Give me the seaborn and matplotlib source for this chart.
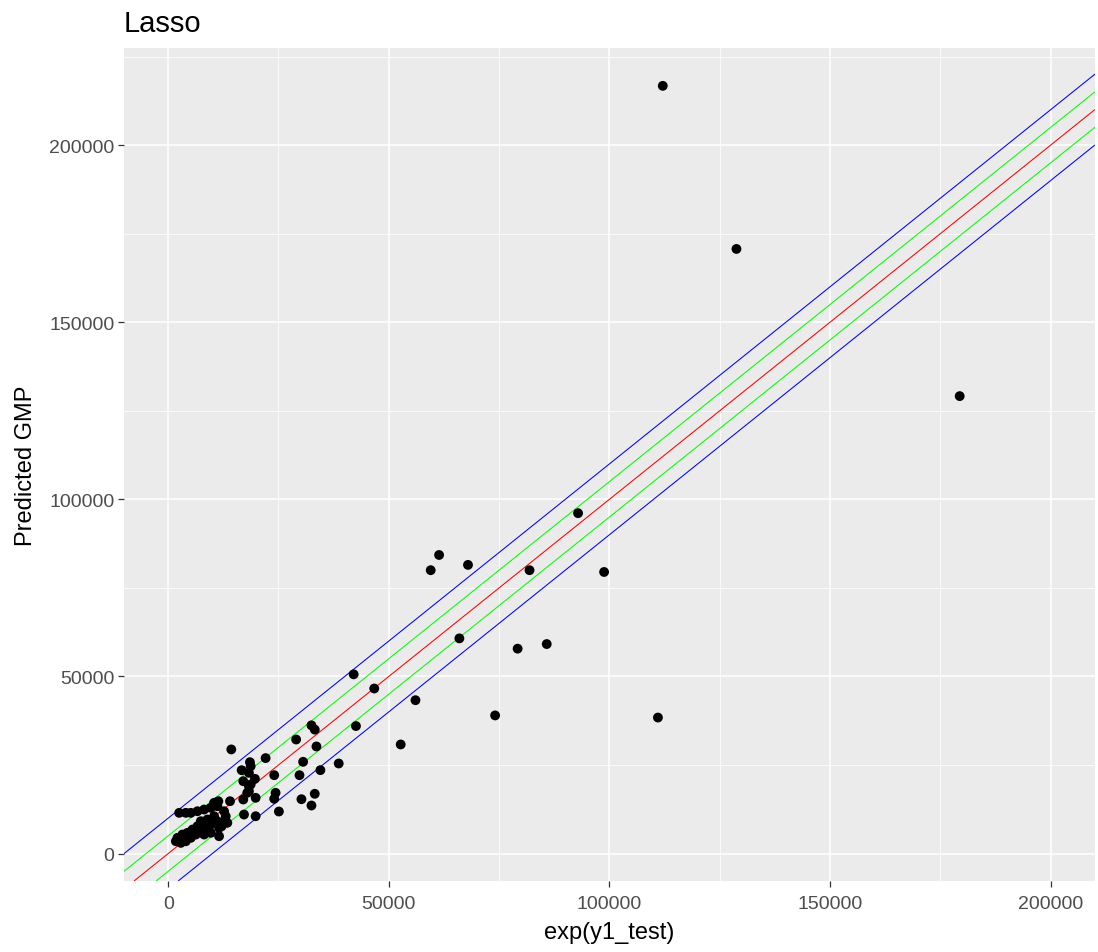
import matplotlib
matplotlib.use("Agg")
import matplotlib.pyplot as plt
import seaborn as sns
import pandas as pd
from matplotlib.ticker import MultipleLocator, FuncFormatter

# actual GMP (exp(y1_test)) and lasso predictions
actual = [112100, 128800, 179400, 92900, 61400, 59500, 67950, 81900, 98800, 66000,
          79200, 85800, 56050, 74100, 52700, 111000, 42040, 46700, 14300, 22080,
          29000, 32470, 33220, 33600, 42560, 38650, 30580, 29760, 34500, 33220,
          32470, 30200, 25090, 24030, 24340, 24030, 18530, 18690, 16650, 18300,
          19660, 17020, 18690, 18300, 19820, 17020, 14010, 17180, 19820,
          2490, 4000, 5130, 6630, 8140, 9650, 10780, 11150, 12660, 13040,
          12280, 11150, 10400, 8880, 7390, 6630, 5500, 4360, 3230, 2100,
          1740, 2870, 4000, 5130, 6260, 7390, 8520, 9650, 8140, 9650,
          11530, 13400, 3620, 4750, 11530, 12100, 11370, 10400, 18300, 17920]
predicted = [216750, 170700, 129150, 96100, 84300, 80000, 81500, 80000, 79500, 60750,
             57850, 59150, 43300, 39000, 30800, 38400, 50600, 46600, 29400, 26950,
             32200, 36200, 35000, 30240, 36000, 25430, 25900, 22130, 23550, 16870,
             13570, 15350, 11870, 22130, 17150, 15460, 25800, 24670, 23540, 22800,
             21100, 20430, 19500, 17600, 15740, 15260, 14780, 11020, 10540,
             11500, 11500, 11500, 11950, 12430, 12910, 14330, 13370, 11950, 10540,
             8680, 9130, 10540, 9610, 9130, 7710, 6780, 5850, 5370, 4440,
             3480, 3020, 3480, 4440, 5370, 6300, 7260, 8200, 5370, 5850,
             7260, 8680, 4440, 5370, 4900, 7700, 14780, 14330, 19000, 17150]

# reference lines y = x + offset
line_offsets = [0, 5000, -5000, 10000, -10000]
line_colors = ["red", "#00FF00", "#00FF00", "blue", "blue"]

x_limits = [0, 200000]
ticks = [0, 50000, 100000, 150000, 200000]

df = pd.DataFrame({"actual": actual, "predicted": predicted})

sns.set_theme(style="darkgrid", rc={
    "axes.facecolor": "#EBEBEB",
    "grid.color": "white",
    "axes.edgecolor": "white",
    "xtick.bottom": True,
    "ytick.left": True,
})
plt.rcParams["font.family"] = ["Liberation Sans", "DejaVu Sans"]

fig, ax = plt.subplots(figsize=(10.98, 9.53), dpi=100)
fig.subplots_adjust(left=0.113, right=0.997, bottom=0.0748, top=0.9486)

for b, c in zip(line_offsets, line_colors):
    ax.axline((0, b), slope=1, color=c, linewidth=0.75, zorder=2)

sns.scatterplot(data=df, x="actual", y="predicted", color="black", s=50,
                edgecolor="none", ax=ax, zorder=3)

xpad = 0.05 * (x_limits[1] - x_limits[0])
ax.set_xlim(x_limits[0] - xpad, x_limits[1] + xpad)
ypad = 0.05 * (max(predicted) - min(predicted))
ax.set_ylim(min(predicted) - ypad, max(predicted) + ypad)

ax.set_xticks(ticks)
ax.set_yticks(ticks)
ax.xaxis.set_minor_locator(MultipleLocator(25000))
ax.yaxis.set_minor_locator(MultipleLocator(25000))
fmt = FuncFormatter(lambda v, p: f"{v:.0f}")
ax.xaxis.set_major_formatter(fmt)
ax.yaxis.set_major_formatter(fmt)

ax.grid(which="major", color="white", linewidth=1.1)
ax.grid(which="minor", color="white", linewidth=0.55)
ax.tick_params(which="major", length=4, width=0.9, color="#333333",
               labelsize=14, labelcolor="#4D4D4D", pad=3)
ax.tick_params(axis="x", which="major", pad=6)
ax.tick_params(which="minor", length=0)
for s in ax.spines.values():
    s.set_visible(False)

ax.set_xlabel("exp(y1_test)", fontsize=17, color="black", labelpad=7)
ax.set_ylabel("Predicted GMP", fontsize=17, color="black", labelpad=9)
ax.set_title("Lasso", loc="left", fontsize=21, color="black", pad=12)

fig.savefig("out.png", dpi=100)
